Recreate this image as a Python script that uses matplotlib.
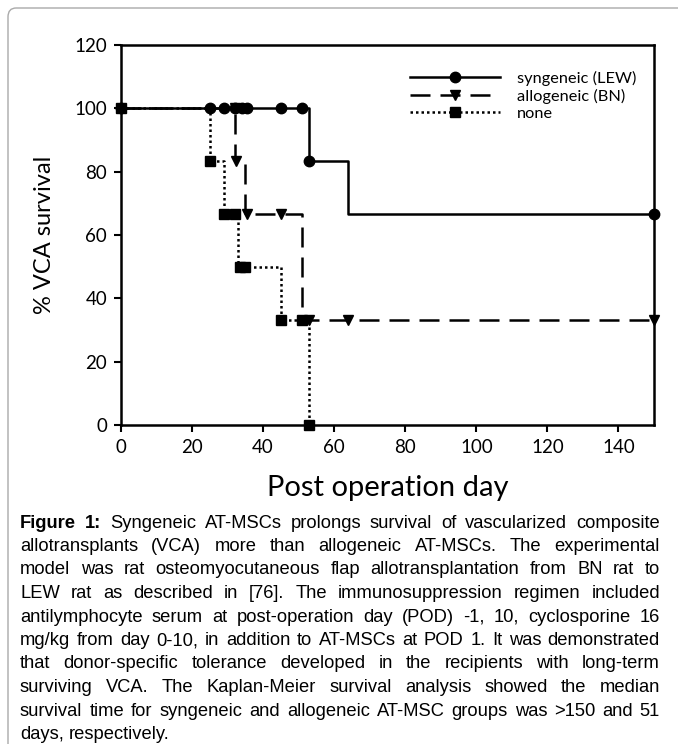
import matplotlib
matplotlib.use("Agg")
import matplotlib.pyplot as plt
from matplotlib.lines import Line2D
from matplotlib.patches import FancyBboxPatch

W, H = 678, 744

# Kaplan-Meier step data (day, % survival)
syn_t = [0, 53, 64, 150]
syn_s = [100, 83.3, 66.7, 66.7]
allo_t = [0, 32, 35, 51, 150]
allo_s = [100, 83.3, 66.7, 33.3, 33.3]
none_t = [0, 25, 29, 33, 45, 53]
none_s = [100, 83.3, 66.7, 50, 33.3, 0]

# symbol positions
syn_mt = [0, 25, 29, 32, 34, 35.5, 45, 51, 53, 150]
syn_ms = [100, 100, 100, 100, 100, 100, 100, 100, 83.3, 66.7]
allo_mt = [32, 32.5, 35.5, 45, 53, 64, 150]
allo_ms = [100, 83.3, 66.7, 66.7, 33.3, 33.3, 33.3]
none_mt = [0, 25, 29, 32, 33.5, 35, 45, 51, 53]
none_ms = [100, 83.3, 66.7, 66.7, 50, 50, 33.3, 33.3, 0]

labels = ["syngeneic (LEW)", "allogeneic (BN)", "none"]
xticks = [0, 20, 40, 60, 80, 100, 120, 140]
yticks = [0, 20, 40, 60, 80, 100, 120]

caption = [
    "Figure 1: Syngeneic AT-MSCs prolongs survival of vascularized composite",
    "allotransplants (VCA) more than allogeneic AT-MSCs. The experimental",
    "model was rat osteomyocutaneous flap allotransplantation from BN rat to",
    "LEW rat as described in [76]. The immunosuppression regimen included",
    "antilymphocyte serum at post-operation day (POD) -1, 10, cyclosporine 16",
    "mg/kg from day 0-10, in addition to AT-MSCs at POD 1. It was demonstrated",
    "that donor-specific tolerance developed in the recipients with long-term",
    "surviving VCA. The Kaplan-Meier survival analysis showed the median",
    "survival time for syngeneic and allogeneic AT-MSC groups was >150 and 51",
    "days, respectively.",
]

plt.rcParams['font.family'] = ['Lato', 'DejaVu Sans']

fig = plt.figure(figsize=(W / 100, H / 100), dpi=100)
ax = fig.add_axes([121 / W, 1 - 425 / H, (654 - 121) / W, (425 - 45) / H])

dash = (0, (8, 4))
dot = (0, (1, 1.2))

ax.step(none_t, none_s, where='post', color='black', lw=1.8, linestyle=dot, zorder=2)
ax.plot(none_mt, none_ms, 's', color='black', ms=6.5, zorder=3, clip_on=False)
ax.step(allo_t, allo_s, where='post', color='black', lw=1.8, linestyle=dash, zorder=2)
ax.plot(allo_mt, allo_ms, 'v', color='black', ms=7, zorder=3, clip_on=False)
ax.step(syn_t, syn_s, where='post', color='black', lw=1.8, zorder=4)
ax.plot(syn_mt, syn_ms, 'o', color='black', ms=7.5, zorder=5, clip_on=False)

ax.set_xlim(0, 150)
ax.set_ylim(0, 120)
ax.set_xticks(xticks)
ax.set_yticks(yticks)
ax.tick_params(direction='out', length=5, width=1.5, labelsize=13.5, pad=5)
for sp in ax.spines.values():
    sp.set_linewidth(1.8)
ax.set_xlabel("Post operation day", fontsize=21, labelpad=14)
ax.set_ylabel("% VCA survival", fontsize=17, labelpad=14)

handles = [
    Line2D([], [], color='black', lw=1.8, marker='o', ms=7.5),
    Line2D([], [], color='black', lw=1.8, linestyle=dash, marker='v', ms=7),
    Line2D([], [], color='black', lw=1.8, linestyle=dot, marker='s', ms=6.5),
]
ax.legend(handles, labels, loc='upper left', bbox_to_anchor=(0.53, 0.95),
          frameon=False, fontsize=11.8, handlelength=5.5, labelspacing=0.18,
          handletextpad=1.0, borderaxespad=0)

# gray page frame
fig.patches.append(FancyBboxPatch((8 / W, -0.05), 1.1, 1 - 8 / H + 0.05,
                                  boxstyle="round,pad=0,rounding_size=0.012",
                                  transform=fig.transFigure, fill=False,
                                  edgecolor='#aaaaaa', lw=1))

# justified caption
renderer = fig.canvas.get_renderer()
x0, x1 = 20, 660
ytop, dy = 523, 23.5
cfam = ['Liberation Sans Narrow', 'Liberation Sans']
for i, line in enumerate(caption):
    words = line.split()
    y = 1 - (ytop + i * dy) / H
    texts = []
    for j, w in enumerate(words):
        bold = (i == 0 and j < 2)
        t = fig.text(0, y, w, fontsize=13.2, family=cfam, va='center',
                     weight='bold' if bold else 'normal')
        texts.append(t)
    widths = [t.get_window_extent(renderer).width for t in texts]
    if i == len(caption) - 1:
        gap = 4.5
    else:
        gap = (x1 - x0 - sum(widths)) / (len(words) - 1)
    x = x0
    for t, wd in zip(texts, widths):
        t.set_x(x / W)
        x += wd + gap

fig.savefig("out.png", dpi=100)
